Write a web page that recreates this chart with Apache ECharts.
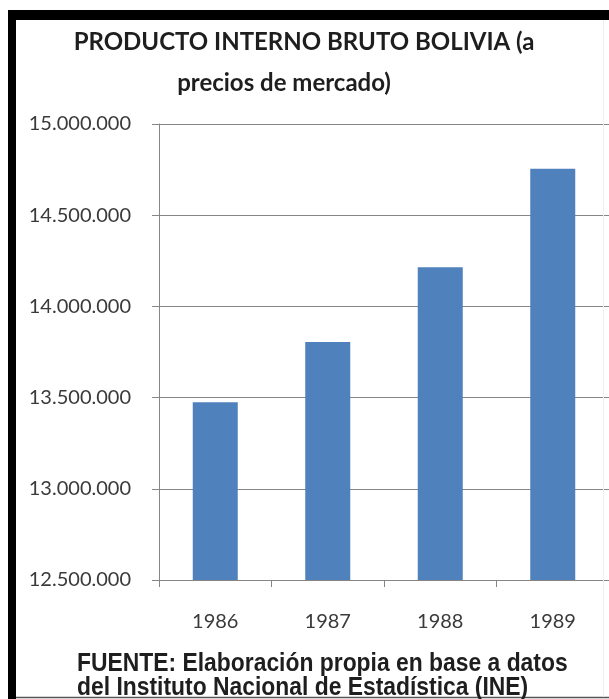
<!DOCTYPE html>
<html>
<head>
<meta charset="utf-8">
<script src="https://cdn.jsdelivr.net/npm/echarts@6/dist/echarts.min.js"></script>
<style>
  html, body { margin: 0; padding: 0; background: #ffffff; }
  #chart { width: 609px; height: 699px; }
</style>
</head>
<body>
<div id="chart"></div>
<script>
// PIB de Bolivia a precios de mercado, 1986-1989
const years = ['1986', '1987', '1988', '1989'];
const pib = [13475000, 13805000, 14215000, 14755000];
const yTicks = [12500000, 13000000, 13500000, 14000000, 14500000, 15000000];

const titleLines = ['PRODUCTO INTERNO BRUTO BOLIVIA (a', 'precios de mercado)'];
const sourceLines = ['FUENTE: Elaboración propia en base a datos', 'del Instituto Nacional de Estadística (INE)'];

function formatMiles(v) {
  return String(Math.round(v)).replace(/\B(?=(\d{3})+(?!\d))/g, '.');
}

const chart = echarts.init(document.getElementById('chart'), null, { renderer: 'canvas' });

const axisGray = '#868686';
const labelFont = 'Lato, "Open Sans", sans-serif';
const titleFont = 'bold 24px Lato, "Open Sans", sans-serif';
const sourceFont = 'bold 25px "Liberation Sans", Arial, sans-serif';

chart.setOption({
  animation: false,
  backgroundColor: '#ffffff',
  grid: { left: 159, top: 124, bottom: 119, right: -12, containLabel: false },
  xAxis: {
    type: 'category',
    data: years,
    boundaryGap: true,
    axisLine: { lineStyle: { color: axisGray, width: 1 } },
    axisTick: { show: true, length: 7, lineStyle: { color: axisGray } },
    axisLabel: { color: '#3a3a3a', fontSize: 20, fontFamily: labelFont, margin: 32 }
  },
  yAxis: {
    type: 'value',
    min: yTicks[0],
    max: yTicks[yTicks.length - 1],
    interval: yTicks[1] - yTicks[0],
    axisLine: { show: true, lineStyle: { color: axisGray, width: 1 } },
    axisTick: { show: true, length: 7, lineStyle: { color: axisGray } },
    splitLine: { show: true, lineStyle: { color: axisGray, width: 1 } },
    axisLabel: {
      color: '#3a3a3a', fontSize: 20, fontFamily: labelFont, margin: 28,
      formatter: formatMiles
    }
  },
  series: [{
    type: 'bar',
    data: pib,
    barWidth: '40%',
    itemStyle: { color: '#4F81BD' }
  }],
  graphic: [
    // marco negro superior e izquierdo
    { type: 'rect', shape: { x: 8, y: 10, width: 601, height: 10 }, style: { fill: '#000' }, z: 100 },
    { type: 'rect', shape: { x: 8, y: 10, width: 8, height: 689 }, style: { fill: '#000' }, z: 100 },
    { type: 'line', shape: { x1: 16, y1: 697.5, x2: 609, y2: 697.5 }, style: { stroke: '#555', lineWidth: 1.5 }, z: 100 },
    { type: 'line', shape: { x1: 603.5, y1: 20, x2: 603.5, y2: 697 }, style: { stroke: '#eeeeee', lineWidth: 1 }, z: 100 },
    // título en dos líneas
    {
      type: 'text', z: 100,
      style: { x: 304, y: 42, text: titleLines[0], fill: '#1e1e1e', align: 'center', verticalAlign: 'middle', font: titleFont }
    },
    {
      type: 'text', z: 100,
      style: { x: 284, y: 83, text: titleLines[1], fill: '#1e1e1e', align: 'center', verticalAlign: 'middle', font: titleFont }
    },
    // fuente, en letra estrecha
    {
      type: 'text', z: 100, x: 77, y: 0, scaleX: 0.915, originX: 0,
      style: { x: 0, y: 664, text: sourceLines[0], fill: '#1e1e1e', verticalAlign: 'middle', font: sourceFont }
    },
    {
      type: 'text', z: 100, x: 77, y: 0, scaleX: 0.915, originX: 0,
      style: { x: 0, y: 688, text: sourceLines[1], fill: '#1e1e1e', verticalAlign: 'middle', font: sourceFont }
    }
  ]
});
</script>
</body>
</html>
